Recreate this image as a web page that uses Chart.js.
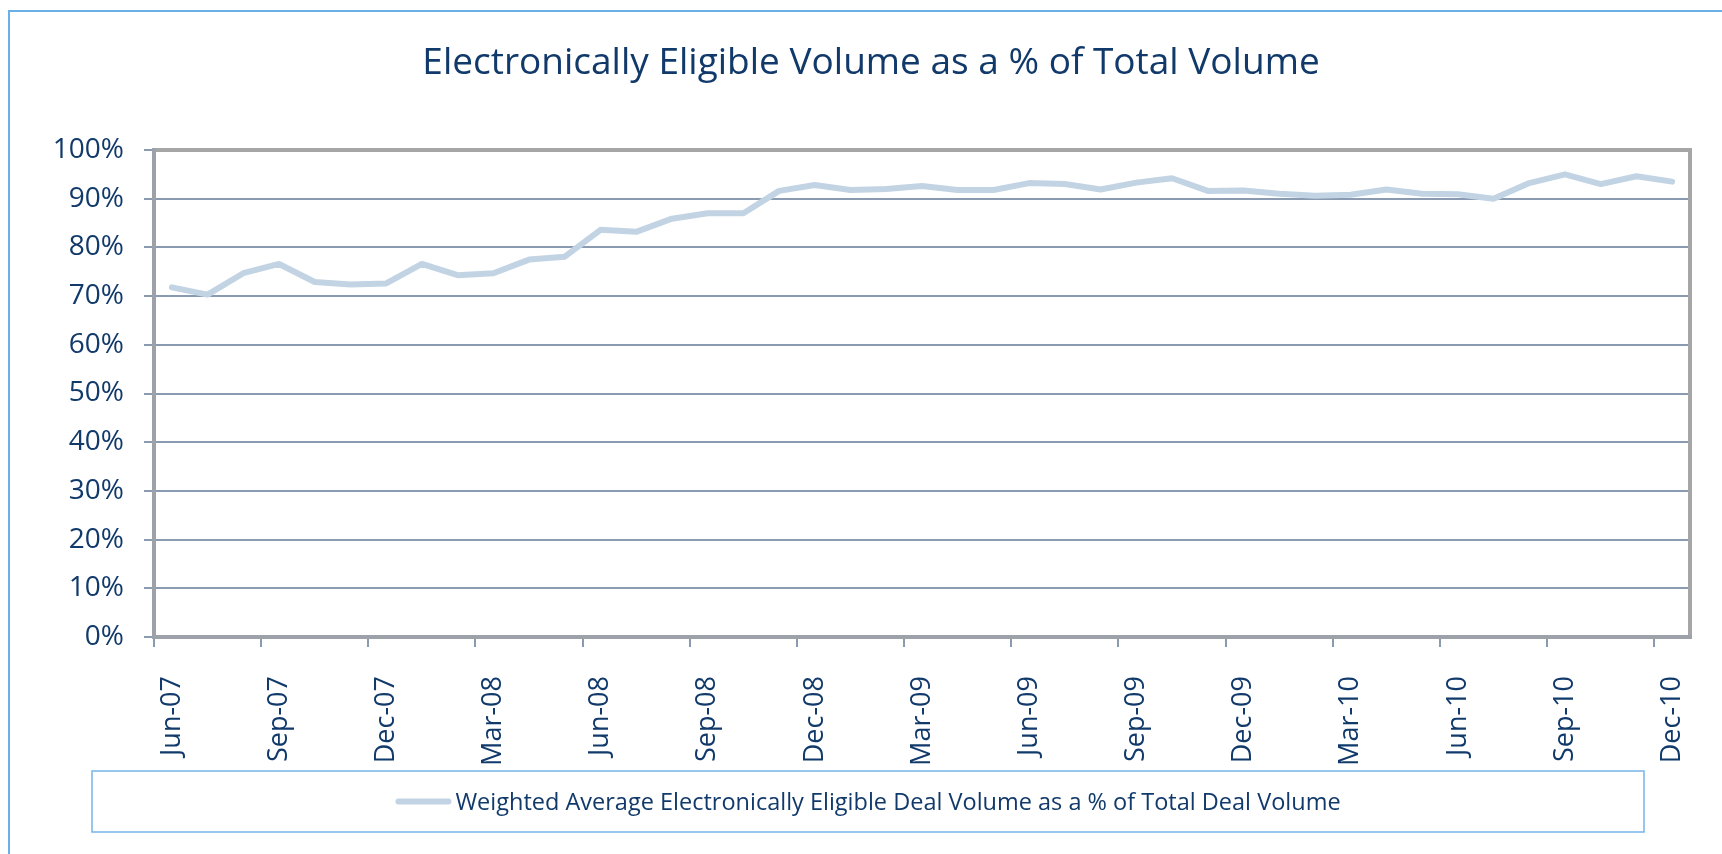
<!DOCTYPE html>
<html>
<head>
<meta charset="utf-8">
<script src="https://cdn.jsdelivr.net/npm/chart.js@4/dist/chart.umd.min.js"></script>
<style>
  html, body { margin: 0; padding: 0; background: #ffffff; }
  #wrap { width: 1722px; height: 854px; position: relative; }
</style>
</head>
<body>
<div id="wrap"><canvas id="c" width="1722" height="854"></canvas></div>
<script>
const chartTitle = 'Electronically Eligible Volume as a % of Total Volume';
const seriesLabel = 'Weighted Average Electronically Eligible Deal Volume as a % of Total Deal Volume';

const months = [
  'Jun-07','Jul-07','Aug-07','Sep-07','Oct-07','Nov-07','Dec-07',
  'Jan-08','Feb-08','Mar-08','Apr-08','May-08','Jun-08','Jul-08','Aug-08','Sep-08','Oct-08','Nov-08','Dec-08',
  'Jan-09','Feb-09','Mar-09','Apr-09','May-09','Jun-09','Jul-09','Aug-09','Sep-09','Oct-09','Nov-09','Dec-09',
  'Jan-10','Feb-10','Mar-10','Apr-10','May-10','Jun-10','Jul-10','Aug-10','Sep-10','Oct-10','Nov-10','Dec-10'
];

const eligiblePct = [
  71.8, 70.3, 74.7, 76.6, 72.9, 72.4, 72.6,
  76.6, 74.3, 74.7, 77.5, 78.1, 83.6, 83.2, 85.9, 87.0, 87.0, 91.6, 92.8,
  91.8, 92.0, 92.6, 91.8, 91.8, 93.2, 93.0, 91.9, 93.3, 94.2, 91.6, 91.7,
  91.0, 90.6, 90.8, 91.9, 91.0, 90.9, 90.0, 93.2, 95.0, 93.0, 94.6, 93.5
];

const yTicks = [0, 10, 20, 30, 40, 50, 60, 70, 80, 90, 100];
const labelEvery = 3;

const NAVY = '#113a6b';
const LINE = '#c2d4e4';
const GRID = '#8a9ab1';
const FONT = "'Open Sans', 'DejaVu Sans', sans-serif";

const decorPlugin = {
  id: 'decor',
  beforeDraw(chart) {
    const ctx = chart.ctx;
    ctx.save();
    ctx.strokeStyle = '#6aafe6';
    ctx.lineWidth = 2;
    ctx.beginPath();
    ctx.moveTo(9, 900);
    ctx.lineTo(9, 11);
    ctx.lineTo(1800, 11);
    ctx.stroke();
    ctx.fillStyle = NAVY;
    ctx.font = "37px " + FONT;
    ctx.textAlign = 'center';
    ctx.textBaseline = 'alphabetic';
    ctx.fillText(chartTitle, 871, 74);
    ctx.restore();
  },
  beforeDatasetsDraw(chart) {
    const ctx = chart.ctx;
    const a = chart.chartArea;
    ctx.save();
    ctx.lineWidth = 4;
    ctx.lineJoin = 'miter';
    ctx.strokeStyle = '#a6a6a6';
    ctx.beginPath();
    ctx.moveTo(a.left, a.top);
    ctx.lineTo(a.right, a.top);
    ctx.lineTo(a.right, a.bottom);
    ctx.stroke();
    ctx.strokeStyle = '#9da2aa';
    ctx.beginPath();
    ctx.moveTo(a.left, a.top - 2);
    ctx.lineTo(a.left, a.bottom);
    ctx.lineTo(a.right + 2, a.bottom);
    ctx.stroke();
    ctx.restore();
  },
  afterDraw(chart) {
    const ctx = chart.ctx;
    const ds = chart.data.datasets[0];
    ctx.save();
    const bx = 92, by = 771, bw = 1552, bh = 61;
    ctx.strokeStyle = '#75b5ea';
    ctx.lineWidth = 1.5;
    ctx.strokeRect(bx, by, bw, bh);
    ctx.font = "23.5px " + FONT;
    const tw = ctx.measureText(ds.label).width;
    const sw = 56, gap = 4;
    const start = bx + bw / 2 - (sw + gap + tw) / 2;
    const cy = 801.5;
    ctx.strokeStyle = ds.borderColor;
    ctx.lineWidth = ds.borderWidth;
    ctx.lineCap = 'round';
    ctx.beginPath();
    ctx.moveTo(start + 3, cy);
    ctx.lineTo(start + sw - 3, cy);
    ctx.stroke();
    ctx.fillStyle = NAVY;
    ctx.textAlign = 'left';
    ctx.textBaseline = 'alphabetic';
    ctx.fillText(ds.label, start + sw + gap, cy + 8.5);
    ctx.restore();
  }
};

new Chart(document.getElementById('c'), {
  type: 'line',
  data: {
    labels: months,
    datasets: [{
      label: seriesLabel,
      data: eligiblePct,
      borderColor: LINE,
      backgroundColor: LINE,
      borderWidth: 6,
      borderCapStyle: 'round',
      borderJoinStyle: 'round',
      pointRadius: 0,
      pointHoverRadius: 0,
      tension: 0,
      fill: false
    }]
  },
  options: {
    responsive: false,
    animation: false,
    devicePixelRatio: 1,
    layout: { padding: { left: 0, right: 32, top: 150, bottom: 0 } },
    plugins: {
      legend: { display: false },
      title: { display: false },
      tooltip: { enabled: false }
    },
    scales: {
      x: {
        type: 'category',
        offset: true,
        border: { display: false },
        grid: {
          offset: true,
          drawOnChartArea: false,
          drawTicks: true,
          tickLength: 10,
          lineWidth: 2,
          color: (c) => (c.index % labelEvery === 0 ? GRID : 'rgba(0,0,0,0)')
        },
        ticks: {
          autoSkip: false,
          maxRotation: 90,
          minRotation: 90,
          padding: 29,
          color: NAVY,
          font: { family: FONT, size: 27 },
          callback: function (v, i) { return i % labelEvery === 0 ? months[i] : ''; }
        },
        afterFit: (s) => { s.height = 854 - 637; s.paddingLeft = 0; s.paddingRight = 0; }
      },
      y: {
        min: yTicks[0],
        max: yTicks[yTicks.length - 1],
        border: { display: false },
        afterBuildTicks: (s) => { s.ticks = yTicks.map(v => ({ value: v })); },
        grid: {
          drawTicks: true,
          tickLength: 10,
          lineWidth: 2,
          color: GRID
        },
        ticks: {
          padding: 20,
          color: NAVY,
          font: { family: FONT, size: 28 },
          callback: (v) => v + '%'
        },
        afterFit: (s) => { s.width = 154; s.paddingTop = 0; s.paddingBottom = 0; }
      }
    }
  },
  plugins: [decorPlugin]
});
</script>
</body>
</html>
